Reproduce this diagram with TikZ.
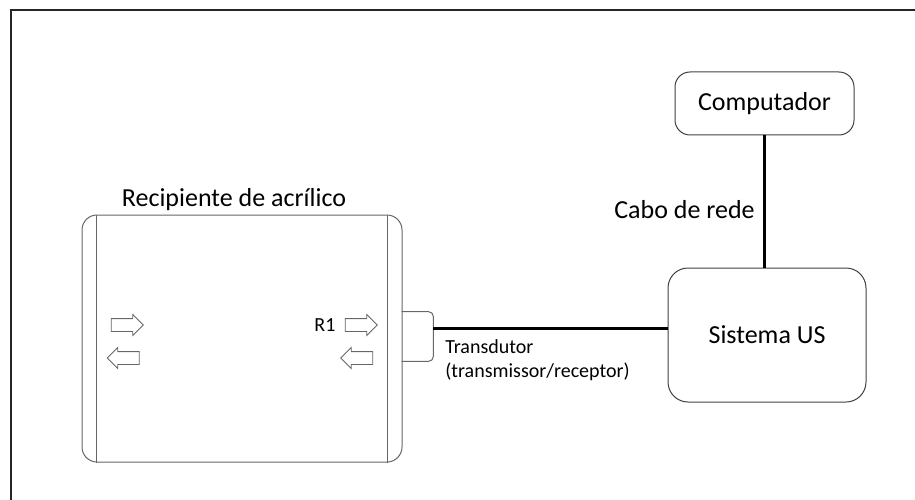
\documentclass[tikz,border=0pt]{standalone}
\usepackage{fontspec}
\setmainfont{Carlito}
\usetikzlibrary{positioning,shapes.arrows,calc}

\begin{document}
\begin{tikzpicture}[
      x=1pt, y=-1pt, thick,
      box/.style={rectangle, rounded corners=#1, draw=black!75, line width=1pt},
      box/.default=18pt,
      cable/.style={line width=3pt, black},
      wall/.style={draw=black!60, line width=1pt},
      label/.style={font=\fontsize{26}{30}\selectfont, inner sep=0pt},
      small/.style={font=\fontsize{20}{24}\selectfont, inner sep=0pt},
      wave/.style={single arrow, draw=black!60, line width=0.8pt, inner xsep=0pt, inner ysep=6pt,
                   minimum height=32pt, single arrow head extend=4pt},
      waveback/.style={wave, shape border rotate=180}]

      % Frame
      \useasboundingbox (0,0) rectangle (915,500);
      \draw[line width=2pt, black!85] (11,500) -- (11,10) -- (915,10);

      % Nodes
      \node[box=15pt, wall, minimum width=320pt, minimum height=247pt] (tank) at (242,338.5) {};
      \node[minimum width=31pt, minimum height=49pt, inner sep=0pt] (probe) at (417.5,336.5) {};
      \node[box=20pt, minimum width=198pt, minimum height=134pt] (us) at (767,335) {};
      \node[label] at (us) {Sistema US};
      \node[box=15pt, minimum width=179pt, minimum height=63pt] (comp) at (764.5,103.5) {};
      \node[label] at (comp) {Computador};

      % Tank walls and transducer
      \draw[wall] ([xshift=15pt]tank.north west) -- ([xshift=15pt]tank.south west);
      \draw[wall] ([xshift=-15pt]tank.north east) -- ([xshift=-15pt]tank.south east);
      \draw[wall, rounded corners=5pt] (probe.north west) -- (probe.north east)
            -- (probe.south east) -- (probe.south west);

      % Waves
      \node[wave] (lout) at (124,325) {};
      \node[waveback] (lback) at (126.5,358) {};
      \node[wave] (rout) at (358,325) {};
      \node[waveback] (rback) at (360,358) {};
      \node[small, left=9pt of rout] {R1};

      % Edges
      \draw[cable] ([yshift=8.5pt]probe.east) -- ([yshift=8.5pt]probe.east -| us.west);
      \draw[cable] (comp.south) -- (comp.south |- us.north);

      % Labels
      \node[label, anchor=base] at (234,206) {Recipiente de acrílico};
      \node[label, anchor=east] at (755,210) {Cabo de rede};
      \node[small, anchor=north west, align=left] at (445,339)
            {Transdutor\\(transmissor/receptor)};

\end{tikzpicture}
\end{document}
